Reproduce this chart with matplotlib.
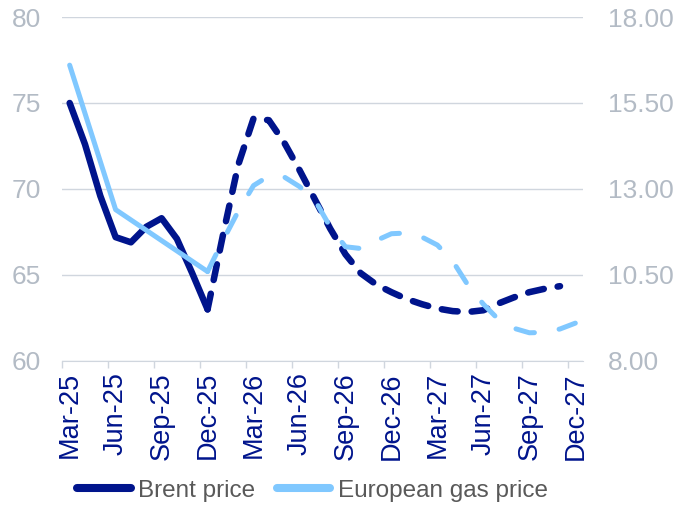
import matplotlib.pyplot as plt
import numpy as np
import pandas as pd
from matplotlib.lines import Line2D

plt.rcParams['font.family'] = ['Liberation Sans', 'DejaVu Sans']

# monthly categories, Mar-25 .. Dec-27
months = pd.date_range('2025-03-01', '2027-12-01', freq='MS').strftime('%b-%y').tolist()
last_actual = 'Dec-25'

# Brent, USD/bbl (left axis)
brent = [75.0, 72.6, 69.6, 67.2, 66.9, 67.8, 68.3, 67.1, 65.1, 63.0,
         67.3, 71.4, 74.1, 74.0, 72.7, 71.1, 69.4, 67.7, 66.2, 65.1,
         64.45, 64.0, 63.6, 63.3, 63.05, 62.9, 62.85, 62.95, 63.35, 63.7,
         64.0, 64.2, 64.35, np.nan]
# European gas (right axis)
gas = [16.6, 15.2, 13.8, 12.4, 12.1, 11.8, 11.5, 11.2, 10.9, 10.6,
       11.5, 12.35, 13.1, 13.38, 13.35, 13.07, 12.68, 11.9, 11.32, 11.27,
       11.5, 11.7, 11.72, 11.6, 11.37, 10.9, 10.2, 9.65, 9.2, 8.95,
       8.82, 8.83, 8.93, 9.1]

navy = '#00148C'
light = '#80C8FF'
grey_txt = '#B3BBC5'
grid_c = '#D0D6DE'

x = np.arange(len(months))
s = months.index(last_actual)
brent = np.array(brent)
gas = np.array(gas)

fig = plt.figure(figsize=(6.79, 5.20), dpi=100)
ax = fig.add_axes([0.0913, 0.3058, 0.7673, 0.6615])

ax.plot(x[:s+1], brent[:s+1], color=navy, lw=4.7,
        solid_capstyle='round', solid_joinstyle='round')
ax.plot(x[s:], brent[s:], color=navy, lw=4.7, dashes=(2.45, 2.15),
        dash_capstyle='round', dash_joinstyle='round')
ax.set_ylim(60, 80)
ax.set_yticks([60, 65, 70, 75, 80])
ax.set_xlim(-0.5, len(months) - 0.5)
ax.set_xticks(x[::3])
ax.set_xticklabels(months[::3], rotation=90)
ax.set_xticks(np.arange(-0.5, len(months) - 1, 3), minor=True)
ax.tick_params(axis='x', which='major', length=0, pad=8, labelsize=19.5, labelcolor=navy)
ax.tick_params(axis='x', which='minor', length=5, width=1, color=grid_c)
ax.tick_params(axis='y', length=0, pad=15, labelsize=19, labelcolor=grey_txt)
ax.grid(axis='y', color=grid_c, lw=1)
ax.set_axisbelow(True)
for sp in ['top', 'left', 'right']:
    ax.spines[sp].set_visible(False)
ax.spines['bottom'].set_color(grid_c)

ax2 = ax.twinx()
ax2.plot(x[:s+1], gas[:s+1], color=light, lw=3.6,
         solid_capstyle='round', solid_joinstyle='round')
ax2.plot(x[s:], gas[s:], color=light, lw=3.6, dashes=(3.8, 5.0),
         dash_capstyle='round', dash_joinstyle='round')
ax2.set_ylim(8, 18)
ax2.set_yticks(np.arange(8, 18.01, 2.5))
ax2.set_yticklabels(['%.2f' % v for v in np.arange(8, 18.01, 2.5)])
ax2.tick_params(axis='y', length=0, pad=18, labelsize=19, labelcolor=grey_txt)
for sp in ax2.spines.values():
    sp.set_visible(False)

handles = [Line2D([], [], color=navy, lw=5.8, solid_capstyle='round'),
           Line2D([], [], color=light, lw=5.8, solid_capstyle='round')]
leg = fig.legend(handles, ['Brent price', 'European gas price'], loc='center',
                 bbox_to_anchor=(0.46, 0.056), ncol=2, frameon=False, fontsize=17.5,
                 handlelength=2.2, handletextpad=0.3, columnspacing=0.9)
for t in leg.get_texts():
    t.set_color('#595959')

fig.savefig('out.png', dpi=100)
